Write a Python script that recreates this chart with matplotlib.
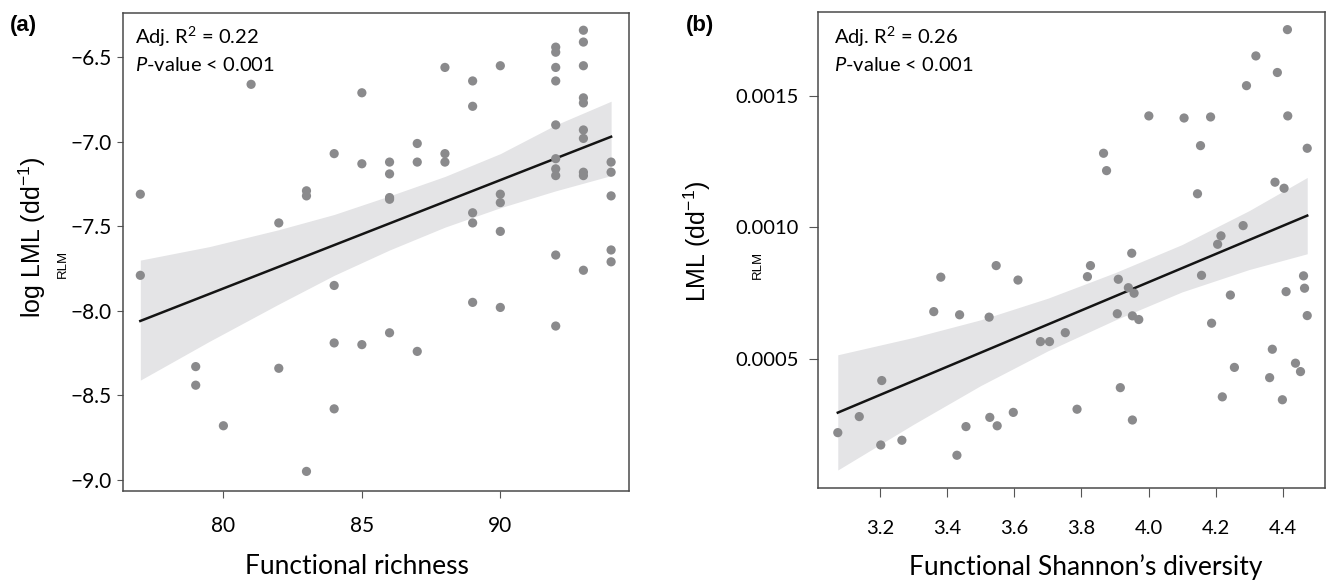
import numpy as np
import matplotlib
matplotlib.use("Agg")
import matplotlib.pyplot as plt
from matplotlib.ticker import FixedLocator, FuncFormatter

plt.rcParams['font.family'] = ['Lato', 'DejaVu Sans']
plt.rcParams['mathtext.fontset'] = 'custom'
plt.rcParams['mathtext.rm'] = 'Lato'
plt.rcParams['mathtext.it'] = 'Lato:italic'

# ---- panel (a): functional richness vs log LML ----
rich_x = [77, 77, 79, 79, 80, 81, 82, 82, 83, 83, 83,
          84, 84, 84, 84, 85, 85, 85, 86, 86, 86, 86, 86,
          87, 87, 87, 88, 88, 88, 89, 89, 89, 89, 89,
          90, 90, 90, 90, 90,
          92, 92, 92, 92, 92, 92, 92, 92, 92, 92,
          93, 93, 93, 93, 93, 93, 93, 93, 93, 93,
          94, 94, 94, 94, 94]
rich_y = [-7.31, -7.79, -8.33, -8.44, -8.68, -6.66, -7.48, -8.34, -7.29, -7.32, -8.95,
          -7.07, -7.85, -8.19, -8.58, -6.71, -7.13, -8.20, -7.12, -7.19, -7.33, -7.34, -8.13,
          -7.01, -7.12, -8.24, -6.56, -7.07, -7.12, -6.64, -6.79, -7.42, -7.48, -7.95,
          -6.55, -7.31, -7.36, -7.53, -7.98,
          -6.44, -6.47, -6.56, -6.64, -6.90, -7.10, -7.16, -7.20, -7.67, -8.09,
          -6.34, -6.41, -6.55, -6.74, -6.77, -6.93, -6.98, -7.18, -7.20, -7.76,
          -7.12, -7.18, -7.32, -7.64, -7.71]
fit_x_a = [77, 94]
fit_y_a = [-8.06, -6.97]
band_x_a = [77, 79.5, 82, 84, 86, 88, 90, 92, 94]
band_lo_a = [-8.41, -8.18, -7.96, -7.79, -7.64, -7.505, -7.39, -7.29, -7.20]
band_hi_a = [-7.70, -7.62, -7.52, -7.43, -7.32, -7.205, -7.07, -6.90, -6.76]
yticks_a = [-9.0, -8.5, -8.0, -7.5, -7.0, -6.5]
xticks_a = [80, 85, 90]

# ---- panel (b): functional Shannon's diversity vs LML ----
shan_x = [3.074, 3.138, 3.202, 3.205, 3.265, 3.360, 3.381, 3.429, 3.437, 3.456,
          3.525, 3.527, 3.546, 3.549, 3.597, 3.611, 3.678, 3.705, 3.752, 3.787,
          3.818, 3.827, 3.866, 3.875, 3.907, 3.910, 3.916, 3.940, 3.950, 3.952,
          3.952, 3.957, 3.971, 4.001, 4.106, 4.146, 4.155, 4.158, 4.185, 4.188,
          4.206, 4.216, 4.220, 4.244, 4.256, 4.282, 4.292, 4.320, 4.361, 4.369,
          4.377, 4.384, 4.399, 4.404, 4.410, 4.414, 4.415, 4.438, 4.453, 4.462,
          4.465, 4.473, 4.473]
shan_y = [0.000220, 0.000281, 0.000173, 0.000418, 0.000191, 0.000680, 0.000811, 0.000134, 0.000668, 0.000243,
          0.000659, 0.000278, 0.000855, 0.000246, 0.000297, 0.000800, 0.000566, 0.000566, 0.000600, 0.000309,
          0.000813, 0.000855, 0.001282, 0.001216, 0.000672, 0.000803, 0.000391, 0.000771, 0.000902, 0.000664,
          0.000268, 0.000750, 0.000650, 0.001424, 0.001416, 0.001128, 0.001311, 0.000818, 0.001420, 0.000636,
          0.000936, 0.000968, 0.000356, 0.000743, 0.000468, 0.001007, 0.001539, 0.001652, 0.000429, 0.000537,
          0.001172, 0.001589, 0.000345, 0.001149, 0.000756, 0.001752, 0.001424, 0.000484, 0.000452, 0.000816,
          0.000769, 0.001301, 0.000665]
fit_x_b = [3.074, 4.473]
fit_y_b = [0.000296, 0.001045]
band_x_b = [3.074, 3.3, 3.5, 3.7, 3.9, 4.1, 4.3, 4.473]
band_lo_b = [0.000078, 0.000252, 0.000399, 0.000531, 0.000648, 0.000755, 0.000840, 0.000900]
band_hi_b = [0.000516, 0.000582, 0.000649, 0.000731, 0.000828, 0.000935, 0.001064, 0.001190]
yticks_b = [0.0005, 0.0010, 0.0015]
xticks_b = [3.2, 3.4, 3.6, 3.8, 4.0, 4.2, 4.4]

W, H = 1326, 582
fig = plt.figure(figsize=(W / 100, H / 100), dpi=100)

def px(x, y):
    return x / W, 1 - y / H

pt_col = '#8a8a8c'
band_col = '#e4e4e6'
spine_col = '#4a4a4a'

ax1 = fig.add_axes([122.6 / W, 1 - 491 / H, (629.1 - 122.6) / W, (491 - 13) / H])
ax2 = fig.add_axes([818 / W, 1 - 488.3 / H, (1325 - 818) / W, (488.3 - 12) / H])

for ax, bx, lo, hi, fx, fy, x, y in [
        (ax1, band_x_a, band_lo_a, band_hi_a, fit_x_a, fit_y_a, rich_x, rich_y),
        (ax2, band_x_b, band_lo_b, band_hi_b, fit_x_b, fit_y_b, shan_x, shan_y)]:
    ax.fill_between(bx, lo, hi, color=band_col, lw=0, zorder=1)
    ax.plot(fx, fy, color='#141414', lw=1.8, zorder=2)
    ax.scatter(x, y, s=44, color=pt_col, edgecolors='none', zorder=3)
    for s in ax.spines.values():
        s.set_color(spine_col)
        s.set_linewidth(1.1)

ax1.set_xlim(76.36, 94.65)
ax1.set_ylim(-9.066, -6.238)
ax1.xaxis.set_major_locator(FixedLocator(xticks_a))
ax1.yaxis.set_major_locator(FixedLocator(yticks_a))
ax1.yaxis.set_major_formatter(FuncFormatter(lambda v, p: f'{v:.1f}'.replace('-', '\u2212')))
ax1.tick_params(axis='y', length=4, pad=4, labelsize=15, color='#555555')
ax1.tick_params(axis='x', length=5, pad=13, labelsize=15, color='#555555')

ax2.set_xlim(3.015, 4.526)
ax2.set_ylim(0.0000084, 0.001819)
ax2.xaxis.set_major_locator(FixedLocator(xticks_b))
ax2.xaxis.set_major_formatter(FuncFormatter(lambda v, p: f'{v:.1f}'))
ax2.yaxis.set_major_locator(FixedLocator(yticks_b))
ax2.yaxis.set_major_formatter(FuncFormatter(lambda v, p: f'{v:.4f}'))
ax2.tick_params(axis='y', length=6.5, pad=7, labelsize=14.5, color='#555555')
ax2.tick_params(axis='x', length=6.5, pad=16, labelsize=14.5, color='#555555')

# panel letters
fig.text(*px(23, 25), '(a)', fontsize=16, fontweight='bold', family='Liberation Sans', ha='center', va='center')
fig.text(*px(700, 25), '(b)', fontsize=16, fontweight='bold', family='Liberation Sans', ha='center', va='center')

# stats annotations
fig.text(*px(135, 37), r'Adj. R$\mathregular{^{2}}$ = 0.22', fontsize=14.5, ha='left', va='center')
fig.text(*px(135, 65), r'$\mathit{P}$-value < 0.001', fontsize=14.5, ha='left', va='center')
fig.text(*px(834, 37), r'Adj. R$\mathregular{^{2}}$ = 0.26', fontsize=14.5, ha='left', va='center')
fig.text(*px(834, 65), r'$\mathit{P}$-value < 0.001', fontsize=14.5, ha='left', va='center')

# axis labels
fig.text(*px(357, 567), 'Functional richness', fontsize=19, ha='center', va='center')
fig.text(*px(1086, 567), 'Functional Shannon\u2019s diversity', fontsize=19, ha='center', va='center')

fig.text(*px(32, 237), r'log LML (dd$\mathregular{^{-1}}$)', fontsize=18, family='Liberation Sans',
         rotation=90, ha='center', va='center')
fig.text(*px(63, 264), 'RLM', fontsize=9.5, family='Liberation Sans', rotation=90, ha='center', va='center')
fig.text(*px(697, 241), r'LML (dd$\mathregular{^{-1}}$)', fontsize=18, family='Liberation Sans',
         rotation=90, ha='center', va='center')
fig.text(*px(758, 265), 'RLM', fontsize=9.5, family='Liberation Sans', rotation=90, ha='center', va='center')

fig.savefig('out.png', dpi=100)
